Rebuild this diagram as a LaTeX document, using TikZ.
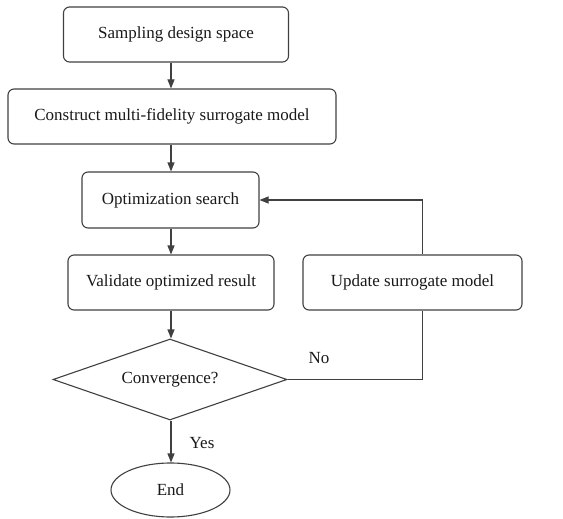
\documentclass[tikz,border=0pt]{standalone}
\usepackage{fontspec}
\setmainfont{Liberation Serif}
\usetikzlibrary{arrows.meta,shapes.geometric}
\begin{document}
\begin{tikzpicture}[x=1pt,y=-1pt,
  line width=1.1pt,
  every node/.style={font=\fontsize{17}{20}\selectfont, text=black!90},
  box/.style={draw=black!75, rounded corners=6pt, minimum height=55pt, inner sep=0pt},
  dec/.style={draw=black!75, shape=diamond, aspect=2.89, minimum width=234pt, minimum height=81pt, inner sep=0pt},
  term/.style={draw=black!75, shape=ellipse, minimum width=119pt, minimum height=54pt, inner sep=0pt},
  arr/.style={draw=black!75, -{Triangle[length=9pt,width=7pt]}},
  ln/.style={draw=black!75}
]
\useasboundingbox (0,0) rectangle (563,519);
\coordinate (ax) at (171,0);
\coordinate (lx) at (422.7,0);
\node[box, minimum width=225pt] (b1) at (176,34.5) {Sampling design space};
\node[box, minimum width=328pt] (b2) at (172,116.5) {Construct multi-fidelity surrogate model};
\node[box, minimum width=177pt, minimum height=56pt] (b3) at (170.5,200) {Optimization search};
\node[box, minimum width=206pt] (b4) at (171,282.5) {Validate optimized result};
\node[box, minimum width=219pt] (b5) at (412.5,282.5) {Update surrogate model};
\node[dec] (d) at (170,379.5) {Convergence?};
\node[term] (e) at (170.5,490) {End};
\node (no) at (319,358) {No};
\node (yes) at (202,443) {Yes};
\draw[arr] (b1.south -| ax) -- (b2.north -| ax);
\draw[arr] (b2.south -| ax) -- (b3.north -| ax);
\draw[arr] (b3.south -| ax) -- (b4.north -| ax);
\draw[arr] (b4.south -| ax) -- (d.north -| ax);
\draw[arr] (d.south -| ax) -- (e.north -| ax);
\draw[ln] (d.east) -| (b5.south -| lx);
\draw[arr] (b5.north -| lx) |- (b3.east);
\end{tikzpicture}
\end{document}
